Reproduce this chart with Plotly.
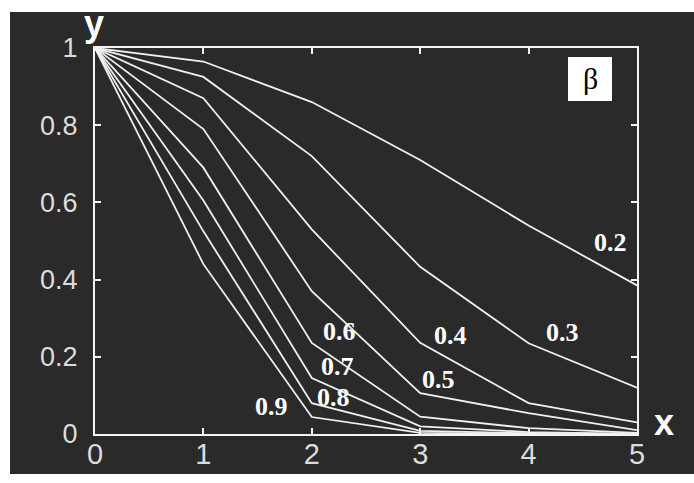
import plotly.graph_objects as go

# Distance along x and the normalised response y for each beta value
x_vals = [0, 1, 2, 3, 4, 5]

beta_labels = ["0.2", "0.3", "0.4", "0.5", "0.6", "0.7", "0.8", "0.9"]

y_b02 = [1.0, 0.965, 0.86, 0.71, 0.54, 0.385]
y_b03 = [1.0, 0.925, 0.72, 0.433, 0.235, 0.12]
y_b04 = [1.0, 0.87, 0.53, 0.236, 0.08, 0.03]
y_b05 = [1.0, 0.79, 0.37, 0.106, 0.054, 0.01]
y_b06 = [1.0, 0.69, 0.236, 0.045, 0.015, 0.003]
y_b07 = [1.0, 0.605, 0.145, 0.02, 0.005, 0.0]
y_b08 = [1.0, 0.525, 0.08, 0.008, 0.002, 0.0]
y_b09 = [1.0, 0.44, 0.044, 0.003, 0.0, 0.0]

# Where each beta value is written inside the plot (data coordinates)
label_x = [4.76, 4.31, 3.28, 3.17, 2.26, 2.24, 2.20, 1.63]
label_y = [0.497, 0.262, 0.256, 0.140, 0.266, 0.176, 0.094, 0.070]

x_ticks = [0, 1, 2, 3, 4, 5]
y_ticks = [0, 0.2, 0.4, 0.6, 0.8, 1]
y_tick_text = ["0", "0.2", "0.4", "0.6", "0.8", "1"]

series = [y_b02, y_b03, y_b04, y_b05, y_b06, y_b07, y_b08, y_b09]

BG = "#2a2a2a"
LINE = "#f0f0f0"
TXT = "#dcdcdc"

fig = go.Figure()
for name, ys in zip(beta_labels, series):
    fig.add_trace(go.Scatter(
        x=x_vals, y=ys, mode="lines", name=name,
        line=dict(color=LINE, width=1.8), showlegend=False,
        hoverinfo="skip",
    ))

# beta values beside their curves
for txt, lx, ly in zip(beta_labels, label_x, label_y):
    fig.add_annotation(
        x=lx, y=ly, xref="x", yref="y", text=f"<b>{txt}</b>",
        showarrow=False,
        font=dict(family="Liberation Serif", size=26, color="#ffffff"),
    )

# axis names
fig.add_annotation(x=-0.002, y=1.064, xref="paper", yref="paper", text="<b>y</b>",
                   showarrow=False, xanchor="center", yanchor="middle",
                   font=dict(family="Liberation Sans", size=36, color="#ffffff"))
fig.add_annotation(x=1.05, y=0.03, xref="paper", yref="paper", text="<b>x</b>",
                   showarrow=False, xanchor="center", yanchor="middle",
                   font=dict(family="Liberation Sans", size=36, color="#ffffff"))

# boxed beta key in the upper-right corner
fig.add_shape(type="rect", xref="paper", yref="paper",
              x0=(568 - 95) / 542, x1=(612 - 95) / 542,
              y0=(434 - 101) / 386, y1=(434 - 57) / 386,
              fillcolor="#ffffff", line=dict(width=0), layer="above")
fig.add_annotation(x=(590 - 95) / 542, y=(434 - 79) / 386, xref="paper", yref="paper",
                   text="β", showarrow=False, xanchor="center", yanchor="middle",
                   font=dict(family="Liberation Serif", size=30, color="#000000"))

# dark panel behind the whole chart
fig.add_shape(type="rect", xref="paper", yref="paper",
              x0=(10 - 95) / 542, x1=(700 - 95) / 542,
              y0=(434 - 474) / 386, y1=(434 - 12) / 386,
              fillcolor=BG, line=dict(width=0), layer="below")

axis_common = dict(
    showgrid=False, zeroline=False, automargin=False,
    showline=True, linecolor="#f4f4f4", linewidth=2, mirror="ticks",
    ticks="inside", ticklen=6, tickwidth=1.5, tickcolor="#f4f4f4",
)

fig.update_xaxes(range=[0, 5], tickvals=x_ticks,
                 tickfont=dict(family="Liberation Sans", size=29, color=TXT),
                 ticklabelstandoff=-7, **axis_common)
fig.update_yaxes(range=[0, 1], tickvals=y_ticks, ticktext=y_tick_text,
                 tickfont=dict(family="Liberation Sans", size=27, color=TXT),
                 ticklabelstandoff=10, **axis_common)

fig.update_layout(
    width=694, height=483,
    margin=dict(l=95, r=57, t=48, b=49),
    paper_bgcolor="#ffffff", plot_bgcolor=BG,
)

fig.write_html("out.html")
